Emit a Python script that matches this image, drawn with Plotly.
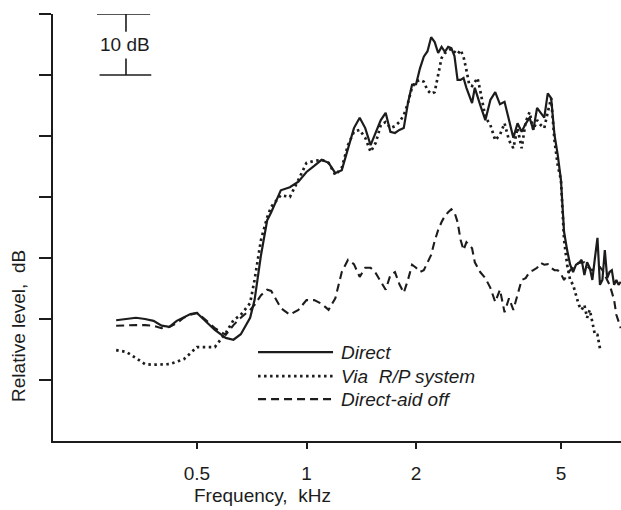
import plotly.graph_objects as go

# Frequency grid (kHz) shared by the curves
freq_khz = [
    0.30, 0.32, 0.34, 0.36, 0.38, 0.40, 0.42, 0.44, 0.46, 0.48, 0.50,
    0.53, 0.56, 0.60, 0.63, 0.66, 0.70, 0.72, 0.75, 0.78, 0.80, 0.85, 0.90, 0.95,
    1.00, 1.05, 1.10, 1.15, 1.20, 1.25, 1.30, 1.35, 1.40, 1.45, 1.50,
    1.55, 1.60, 1.65, 1.70, 1.75, 1.80, 1.85, 1.90, 1.95, 2.00,
    2.05, 2.10, 2.15, 2.20, 2.25, 2.30, 2.35, 2.40, 2.45, 2.50,
    2.55, 2.60, 2.65, 2.70, 2.75, 2.80, 2.85, 2.90, 2.95, 3.00,
    3.1, 3.2, 3.3, 3.4, 3.5, 3.6, 3.7, 3.8, 3.9, 4.0,
    4.1, 4.2, 4.3, 4.4, 4.5, 4.6, 4.7, 4.8, 4.9, 5.0,
    5.1, 5.2, 5.3, 5.4, 5.5, 5.6, 5.7, 5.8, 5.9, 6.0,
    6.1, 6.2, 6.3, 6.4, 6.5, 6.6, 6.7, 6.8, 6.9, 7.0, 7.1, 7.2, 7.3,
]

# Relative level (dB) – Direct
direct_db = [
    19.8, 20.0, 20.2, 20.0, 19.7, 18.9, 18.7, 19.7, 20.3, 20.8, 21.0,
    19.5, 18.2, 16.9, 16.6, 17.5, 20.2, 23.1, 30.5, 36.2, 37.5, 41.1, 41.6, 42.5,
    44.1, 45.1, 46.1, 45.6, 43.9, 44.4, 48.0, 51.3, 53.0, 51.3, 48.5,
    50.5, 52.6, 53.8, 50.7, 50.5, 51.0, 51.3, 55.4, 58.4, 58.5,
    61.1, 63.0, 63.9, 66.2, 65.4, 63.6, 64.6, 63.8, 64.6, 64.4,
    63.1, 59.2, 59.2, 59.5, 57.9, 56.7, 55.4, 57.9, 56.4, 55.1,
    52.6, 55.9, 57.2, 55.2, 55.6, 52.6, 49.7, 52.1, 50.7, 52.0,
    53.0, 51.0, 54.6, 53.8, 53.0, 57.0, 56.2, 50.2, 46.9, 42.8,
    34.3, 31.3, 28.9, 27.7, 28.9, 29.2, 29.7, 27.2, 29.3, 28.4,
    26.4, 30.0, 33.3, 25.6, 26.4, 31.3, 26.7, 27.7, 28.0, 25.6, 26.4, 25.6, 26.1,
]

# Relative level (dB) – Via R/P system (ends at 6.4 kHz)
via_rp_db = [
    14.9, 14.6, 13.6, 12.6, 12.5, 12.5, 12.6, 13.0, 13.4, 14.4, 15.4,
    15.4, 15.4, 17.7, 19.8, 20.7, 22.6, 26.4, 33.0, 36.7, 38.4, 40.3, 40.0, 42.8,
    45.6, 45.9, 46.1, 45.6, 43.6, 44.8, 48.5, 50.7, 51.0, 49.7, 47.4,
    48.9, 51.8, 52.3, 51.3, 51.6, 52.3, 53.4, 55.4, 58.0, 58.9,
    59.2, 58.9, 57.5, 56.9, 57.2, 60.0, 62.8, 63.6, 63.9, 64.3,
    63.8, 63.4, 64.1, 63.0, 60.8, 58.4, 58.2, 58.9, 59.5, 57.5,
    53.1, 51.8, 49.3, 50.2, 52.1, 49.3, 48.0, 51.3, 48.0, 52.3,
    53.9, 51.0, 52.6, 51.8, 51.3, 53.9, 56.2, 49.3, 45.2, 42.8,
    33.0, 28.9, 26.4, 25.6, 23.9, 22.3, 21.5, 22.3, 20.2, 21.5,
    19.5, 17.4, 17.4, 15.2,
]

# Relative level (dB) – Direct-aid off
aid_off_db = [
    18.9, 19.0, 19.0, 19.0, 18.9, 18.5, 18.7, 19.3, 20.2, 20.7, 21.0,
    19.8, 18.5, 17.4, 19.0, 20.2, 21.5, 22.3, 23.9, 24.8, 24.6, 21.8, 20.7, 21.5,
    23.1, 23.1, 22.5, 21.5, 23.4, 27.7, 29.7, 29.0, 26.9, 28.4, 28.4,
    27.5, 26.1, 24.8, 27.2, 27.7, 25.7, 24.3, 26.4, 28.9, 28.4,
    27.7, 28.0, 29.3, 30.5, 32.8, 34.6, 35.9, 36.9, 37.5, 38.0,
    37.5, 35.9, 33.0, 31.3, 32.6, 32.0, 31.6, 29.3, 28.4, 27.7,
    26.7, 25.1, 22.8, 24.8, 21.1, 23.4, 21.5, 24.1, 26.4, 26.7,
    27.7, 28.0, 28.4, 29.2, 28.9, 29.0, 28.4, 28.0, 28.0, 27.4,
    26.4, 27.2, 28.0, 28.4, 28.9, 29.2, 29.3, 29.3, 28.7, 28.2,
    28.0, 28.4, 28.5, 28.5, 28.0, 27.2, 26.4, 25.6, 24.4, 23.1, 20.7, 19.5, 18.5,
]

series_names = ["Direct", "Via  R/P system", "Direct-aid off"]
x_tick_vals = [0.5, 1, 2, 5]
x_tick_text = ["0.5", "1", "2", "5"]
y_tick_vals = [10, 20, 30, 40, 50, 60, 70]
scale_bar_db = [60, 70]

INK = "#1c1c1c"
FONT = "Liberation Sans, Arial, sans-serif"
styles = [
    dict(color=INK, width=2.2, dash="solid"),
    dict(color=INK, width=2.7, dash="2.5px,3.5px"),
    dict(color=INK, width=2.1, dash="8px,5px"),
]

fig = go.Figure()
series = [
    (freq_khz, direct_db),
    (freq_khz[:len(via_rp_db)], via_rp_db),
    (freq_khz, aid_off_db),
]
for (xs, ys), name, st in zip(series, series_names, styles):
    fig.add_trace(go.Scatter(x=xs, y=ys, mode="lines", name=name,
                             line=st, showlegend=False, hoverinfo="skip"))

shapes = []
annotations = []
# Legend drawn inside the plot
legend_y = [0.208, 0.152, 0.098]
for name, st, ly in zip(series_names, styles, legend_y):
    shapes.append(dict(type="line", xref="paper", yref="paper",
                       x0=0.361, x1=0.493, y0=ly, y1=ly, line=st))
    annotations.append(dict(xref="paper", yref="paper", x=0.503, y=ly,
                            xanchor="left", yanchor="middle", showarrow=False,
                            text="<i>" + name.replace("  ", "&nbsp; ") + "</i>",
                            font=dict(family=FONT, size=19, color=INK)))

# 10 dB scale bar
lo, hi = scale_bar_db
bar_line = dict(color=INK, width=1.6)
shapes += [
    dict(type="line", xref="paper", yref="y", x0=0.0775, x1=0.171, y0=hi, y1=hi, line=bar_line),
    dict(type="line", xref="paper", yref="y", x0=0.082, x1=0.173, y0=lo, y1=lo, line=bar_line),
    dict(type="line", xref="paper", yref="y", x0=0.1285, x1=0.1285, y0=hi, y1=hi - 2.9, line=bar_line),
    dict(type="line", xref="paper", yref="y", x0=0.1285, x1=0.1285, y0=lo + 2.7, y1=lo, line=bar_line),
]
annotations.append(dict(xref="paper", yref="y", x=0.126, y=(lo + hi) / 2,
                        xanchor="center", yanchor="middle", showarrow=False,
                        text="10 dB", font=dict(family=FONT, size=19, color=INK)))

# Axis titles
annotations.append(dict(xref="paper", yref="paper", x=0.368, y=-0.128,
                        xanchor="center", yanchor="middle", showarrow=False,
                        text="Frequency,&nbsp; kHz", font=dict(family=FONT, size=19, color=INK)))
annotations.append(dict(xref="paper", yref="paper", x=-0.062, y=0.269,
                        xanchor="center", yanchor="middle", showarrow=False, textangle=-90,
                        text="Relative level,&nbsp; dB", font=dict(family=FONT, size=19, color=INK)))

fig.update_layout(
    width=621, height=510,
    margin=dict(l=53, r=0, t=14, b=69),
    paper_bgcolor="white", plot_bgcolor="white",
    shapes=shapes, annotations=annotations,
    font=dict(family=FONT, size=19, color=INK),
)
fig.update_xaxes(type="log", range=[-0.6964, 0.864],
                 tickvals=x_tick_vals, ticktext=x_tick_text,
                 ticks="outside", ticklen=6, tickwidth=1.5, tickcolor=INK,
                 ticklabelstandoff=8,
                 showline=True, linecolor=INK, linewidth=1.6,
                 showgrid=False, zeroline=False,
                 tickfont=dict(family=FONT, size=19, color=INK))
fig.update_yaxes(range=[0, 70], tickvals=y_tick_vals, showticklabels=False,
                 ticks="outside", ticklen=12, tickwidth=1.5, tickcolor=INK,
                 showline=True, linecolor=INK, linewidth=1.6,
                 showgrid=False, zeroline=False)

fig.write_html("out.html")
